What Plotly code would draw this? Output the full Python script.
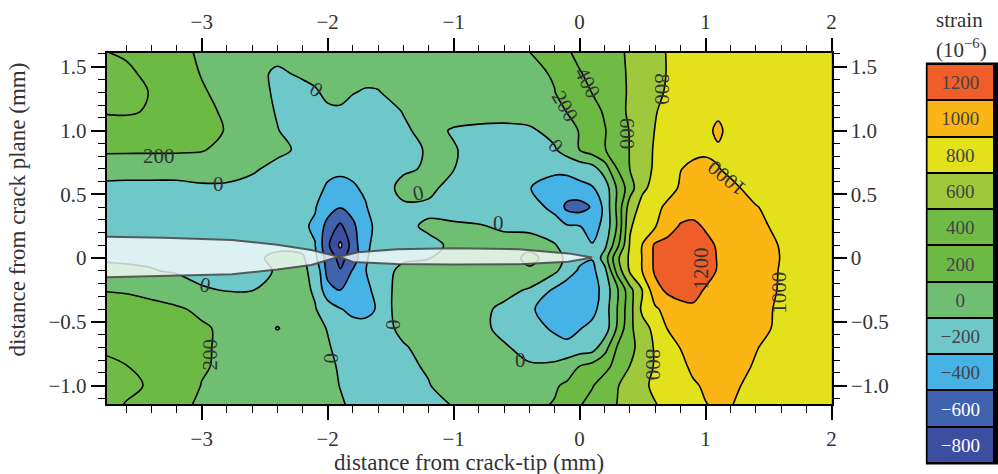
import plotly.graph_objects as go

# ---------------- data ----------------
x_mm = [-3.8, -3.6, -3.4, -3.2, -3.0, -2.8, -2.6, -2.4, -2.2, -2.1, -2.0, -1.9, -1.8, -1.7, -1.6,
        -1.4, -1.2, -1.0, -0.8, -0.6, -0.4, -0.2, -0.1, 0.0, 0.1, 0.2, 0.3, 0.4, 0.5, 0.6,
        0.7, 0.8, 0.9, 1.0, 1.1, 1.2, 1.4, 1.6, 1.8, 2.0]
y_mm = [-1.15, -1.0, -0.85, -0.7, -0.55, -0.4, -0.25, -0.1, 0.0, 0.1, 0.25, 0.4, 0.55, 0.7,
        0.85, 1.0, 1.15, 1.3, 1.45, 1.61]

row_m115 = [480, 390, 340, 250, 170, 150, 120, 100, 80, 60, 40, 20, -30, -60, -70, -50, -30, 5, 80, 120,
            160, 210, 280, 390, 450, 520, 605, 660, 730, 790, 850, 900, 950, 995, 1020, 1005, 950, 920, 910, 900]
row_m100 = [470, 440, 380, 300, 195, 160, 130, 110, 90, 70, 50, -5, -50, -70, -80, -60, -10, 90, 110, 120,
            140, 180, 230, 300, 390, 470, 590, 680, 760, 840, 880, 930, 980, 1020, 1030, 1020, 970, 940, 920, 910]
row_m085 = [440, 405, 340, 290, 215, 170, 140, 120, 100, 80, 40, -20, -70, -90, -90, -40, 20, 60, 80, 10,
            20, 40, 110, 205, 270, 360, 450, 605, 720, 815, 880, 960, 1030, 1050, 1050, 1040, 990, 950, 930, 920]
row_m070 = [380, 350, 310, 270, 220, 170, 130, 110, 100, 80, 20, -60, -100, -110, -100, -20, 70, 90, 80, 20,
            -60, -120, -140, -110, -90, 120, 420, 540, 690, 820, 900, 1005, 1060, 1070, 1060, 1050, 1005, 960, 940, 920]
row_m055 = [320, 310, 290, 250, 220, 170, 130, -10, 100, 60, -10, -100, -130, -130, -100, 55, 110, 100, 50, -50,
            -120, -230, -280, -210, -150, -110, 230, 560, 720, 860, 1010, 1080, 1120, 1110, 1090, 1070, 1030, 980, 950, 930]
row_m040 = [265, 260, 240, 220, 170, 150, 130, 110, 80, 10, -90, -190, -250, -260, -180, 150, 130, 120, 50, -40,
            -170, -300, -340, -330, -260, -100, 205, 530, 850, 970, 1070, 1150, 1180, 1160, 1120, 1090, 1040, 980, 950, 930]
row_m025 = [195, 185, 160, 110, 20, -10, -5, 40, 40, -20, -330, -410, -330, -240, -150, 120, 110, 110, 100, 60,
            -20, -230, -320, -340, -300, -120, 170, 540, 810, 1130, 1240, 1260, 1240, 1190, 1150, 1110, 1050, 990, 950, 930]
row_m010 = [40, 30, 10, -20, -60, -60, -40, 10, 20, -30, -470, -590, -380, -205, -120, 65, 80, 100, 120, 130,
            170, 40, -100, -230, -250, -60, 480, 830, 1010, 1230, 1290, 1310, 1300, 1250, 1190, 1140, 1070, 990, 950, 930]
row_p000 = [-20, -25, -30, -40, -50, -50, -40, 40, 30, -150, -500, -650, -520, -230, -80, -40, -5, 40, 80, 100,
            250, 120, -60, -150, -190, 100, 560, 840, 1010, 1240, 1300, 1320, 1310, 1260, 1190, 1150, 1080, 995, 960, 940]
row_p010 = [-100, -100, -90, -90, -80, -70, -60, -40, -60, -195, -560, -840, -500, -240, -130, -60, -30, 20, 40, 50,
            150, 20, -100, -180, -190, -50, 350, 820, 1010, 1230, 1280, 1300, 1290, 1250, 1180, 1140, 1070, 990, 950, 930]
row_p025 = [-120, -120, -120, -120, -120, -130, -140, -160, -180, -220, -480, -640, -440, -260, -150, -30, 20, 20, 10, -20,
            -80, -150, -180, -195, -270, -150, 225, 780, 900, 990, 1100, 1220, 1240, 1180, 1120, 1090, 1030, 970, 940, 920]
row_p040 = [-80, -90, -100, -100, -100, -110, -120, -140, -170, -190, -300, -390, -330, -210, -130, -40, -30, -60, -80, -90,
            -150, -230, -450, -480, -380, -150, 250, 700, 860, 950, 1040, 1090, 1120, 1120, 1100, 1070, 1005, 960, 930, 910]
row_p055 = [-30, -40, -50, -60, -40, -40, -70, -100, -150, -175, -210, -230, -215, -180, -150, 80, 40, -60, -120, -160,
            -195, -260, -275, -250, -215, -110, 230, 510, 770, 850, 930, 1020, 1060, 1070, 1060, 1025, 960, 930, 910, 900]
row_p070 = [55, 60, 75, 90, 120, 100, 30, -60, -120, -150, -180, -180, -170, -165, -140, -40, 30, 3, -60, -120,
            -150, -170, -160, -120, -80, 100, 405, 605, 720, 830, 900, 995, 1030, 1040, 1005, 975, 940, 910, 900, 900]
row_p085 = [240, 235, 230, 225, 210, 160, 120, 50, -40, -60, -100, -110, -100, -95, -80, -50, 15, 10, -50, -80,
            -80, -20, 90, 205, 300, 390, 520, 605, 720, 820, 880, 930, 965, 975, 980, 960, 930, 900, 900, 900]
row_p100 = [330, 320, 290, 260, 230, 195, 100, 5, -60, -70, -80, -80, -80, -75, -70, -20, 40, -12, -40, -50,
            -30, 60, 130, 210, 300, 390, 500, 610, 720, 805, 860, 900, 930, 960, 1030, 950, 920, 900, 900, 900]
row_p115 = [410, 420, 385, 330, 250, 170, 70, -10, -60, -60, -30, -20, -40, -50, -60, 5, 50, 60, 80, 80,
            90, 150, 205, 260, 340, 420, 520, 640, 710, 790, 850, 880, 900, 930, 970, 930, 910, 900, 900, 900]
row_p130 = [500, 470, 390, 320, 220, 140, 80, -30, -60, -20, 40, 40, 5, -10, -5, 40, 70, 90, 110, 140,
            160, 195, 270, 330, 405, 480, 550, 620, 690, 760, 820, 860, 890, 900, 920, 920, 910, 900, 900, 900]
row_p145 = [470, 430, 360, 290, 190, 120, 60, -30, 30, 50, 60, 60, 40, 35, 30, 40, 70, 90, 110, 140,
            160, 215, 300, 390, 440, 500, 560, 620, 680, 740, 810, 850, 870, 890, 900, 900, 900, 900, 900, 900]
row_p161 = [410, 380, 340, 260, 170, 120, 80, 60, 50, 50, 60, 60, 60, 40, 20, 10, 60, 80, 100, 140,
            195, 320, 380, 440, 480, 530, 575, 620, 690, 750, 810, 840, 860, 880, 890, 900, 900, 900, 900, 900]

strain = [row_m115, row_m100, row_m085, row_m070, row_m055, row_m040, row_m025, row_m010, row_p000,
          row_p010, row_p025, row_p040, row_p055, row_p070, row_p085, row_p100, row_p115, row_p130,
          row_p145, row_p161]

levels = [-800, -600, -400, -200, 0, 200, 400, 600, 800, 1000, 1200]
level_labels = ["\u2212800", "\u2212600", "\u2212400", "\u2212200", "0", "200", "400", "600",
                "800", "1000", "1200"]
# colour of band below -800, then one colour per band starting at each level
band_colors = ["#e4e8f0", "#3b4ea0", "#3f63ad", "#47b2e6", "#6ec8ca", "#6fbf73",
               "#6cb944", "#6fbb45", "#9ec93c", "#e2e11b", "#fbb616", "#ef5e28"]

# contour-line labels as printed on the chart: value, x (mm), y (mm)
clabel_text = ["200", "0", "0", "0", "0", "200", "0", "0", "200", "400", "0", "600", "800",
               "1000", "0", "1200", "1000", "800", "0"]
clabel_x = [-3.34, -2.87, -2.085, -1.28, -2.97, -2.93, -1.975, -1.477, -0.118, 0.067, -0.19,
            0.383, 0.652, 1.165, -0.644, 0.96, 1.576, 0.588, -0.466]
clabel_y = [0.80, 0.58, 1.32, 0.51, -0.21, -0.76, -0.78, -0.52, 1.19, 1.376, 0.875,
            0.976, 1.325, 0.628, 0.279, -0.085, -0.27, -0.834, -0.80]
clabel_angle = [0, 0, 35, -12, 10, -90, -90, -90, 60, 62, 50, 90, 90, 220, 0, -90, -90, 90, 0]

crack_x = [-3.754, -3.3, -2.76, -2.4, -2.13, -1.91, -1.8, -1.45, -1.0, -0.48, -0.09, 0.1,
           -0.09, -0.48, -1.01, -1.45, -1.76, -1.91, -2.13, -2.4, -2.76, -3.3, -3.754]
crack_y = [0.167, 0.16, 0.142, 0.105, 0.063, 0.01, -0.03, -0.046, -0.05, -0.048, -0.028, 0.005,
           0.037, 0.07, 0.077, 0.07, 0.045, 0.01, -0.054, -0.09, -0.127, -0.14, -0.15]

x_ticks = [-3, -2, -1, 0, 1, 2]
x_ticktext = ["\u22123", "\u22122", "\u22121", "0", "1", "2"]
y_ticks = [-1.0, -0.5, 0.0, 0.5, 1.0, 1.5]
y_ticktext = ["\u22121.0", "\u22120.5", "0", "0.5", "1.0", "1.5"]

# ---------------- figure ----------------
W, H = 998, 474
FONT = "Liberation Serif"
TXT = "#333333"

n = len(band_colors)
cscale = []
for k, c in enumerate(band_colors):
    cscale.append([k / n, c])
    cscale.append([(k + 1) / n, c])

step = levels[1] - levels[0]

fig = go.Figure()
fig.add_trace(go.Contour(
    x=x_mm, y=y_mm, z=strain,
    autocontour=False,
    contours=dict(start=levels[0], end=levels[-1] + step, size=step, coloring="fill",
                  showlabels=False),
    colorscale=cscale, showscale=False,
    line=dict(color="black", width=1.6),
    hoverinfo="skip",
))

fig.add_trace(go.Scatter(
    x=crack_x, y=crack_y, mode="lines", fill="toself",
    fillcolor="rgba(246,251,251,0.80)",
    line=dict(color="rgba(75,75,75,0.9)", width=2),
    hoverinfo="skip", showlegend=False,
))

# dummy trace for the mirrored labelled axes (top / right)
fig.add_trace(go.Scatter(x=[None], y=[None], xaxis="x3", yaxis="y2",
                         showlegend=False, hoverinfo="skip"))

# discrete colour key
fig.add_trace(go.Heatmap(
    z=[[lv + step / 2] for lv in levels],
    x=[0], y=list(range(len(levels))),
    text=[[t] for t in level_labels], texttemplate="%{text}",
    textfont=dict(family=FONT, size=19),
    colorscale=cscale, zmin=levels[0] - step, zmax=levels[-1] + step,
    showscale=False, ygap=2, xgap=0, hoverinfo="skip",
    xaxis="x2", yaxis="y3",
))

x0p, x1p = 107.3 / W, 835.7 / W
y0p, y1p = (H - 404.3) / H, (H - 52.7) / H
xr = [-3.754, 2.0]
yr = [-1.146, 1.61]

tickfont = dict(family=FONT, size=21, color=TXT)
common_x = dict(range=xr, tickvals=x_ticks, ticktext=x_ticktext, ticks="outside",
                ticklen=14, tickwidth=1.6, tickcolor="black",
                minor=dict(dtick=0.2, tick0=0, ticks="outside", ticklen=7,
                           tickwidth=1.4, tickcolor="black"),
                showgrid=False, zeroline=False, tickfont=tickfont, fixedrange=True)
common_y = dict(range=yr, tickvals=y_ticks, ticktext=y_ticktext, ticks="outside",
                ticklen=14, tickwidth=1.6, tickcolor="black",
                minor=dict(dtick=0.1, tick0=0, ticks="outside", ticklen=7,
                           tickwidth=1.4, tickcolor="black"),
                showgrid=False, zeroline=False, tickfont=tickfont, fixedrange=True)

annotations = [
    dict(text="distance from crack-tip (mm)", x=471.5 / W, y=1 - 462 / H,
         xref="paper", yref="paper", showarrow=False, xanchor="center", yanchor="middle",
         font=dict(family=FONT, size=23, color=TXT)),
    dict(text="distance from crack plane (mm)", x=18 / W, y=1 - 209.5 / H,
         xref="paper", yref="paper", showarrow=False, xanchor="center", yanchor="middle",
         textangle=-90, font=dict(family=FONT, size=23, color=TXT)),
    dict(text="strain", x=964 / W, y=1 - 20 / H, xref="paper", yref="paper",
         showarrow=False, xanchor="center", yanchor="middle",
         font=dict(family=FONT, size=21, color=TXT)),
    dict(text="(10<sup>\u22126</sup>)", x=966 / W, y=1 - 49 / H, xref="paper", yref="paper",
         showarrow=False, xanchor="center", yanchor="middle",
         font=dict(family=FONT, size=21, color=TXT)),
]
for t, lx, ly, la in zip(clabel_text, clabel_x, clabel_y, clabel_angle):
    annotations.append(dict(text=t, x=lx, y=ly, xref="x", yref="y", showarrow=False,
                            xanchor="center", yanchor="middle", textangle=la,
                            font=dict(family=FONT, size=21, color=TXT)))

fig.update_layout(
    width=W, height=H,
    margin=dict(l=0, r=0, t=0, b=0),
    paper_bgcolor="white", plot_bgcolor="white",
    showlegend=False,
    font=dict(family=FONT, color=TXT),
    xaxis=dict(domain=[x0p, x1p], anchor="y", showline=True, linewidth=2,
               linecolor="black", mirror=True, **common_x),
    xaxis3=dict(overlaying="x", side="top", anchor="y", showline=False, **common_x),
    yaxis=dict(domain=[y0p, y1p], anchor="x", showline=True, linewidth=2,
               linecolor="black", mirror=True, **common_y),
    yaxis2=dict(overlaying="y", side="right", anchor="x", showline=False, **common_y),
    xaxis2=dict(domain=[932 / W, 1.0], anchor="y3", visible=False, range=[-0.5, 0.5],
                fixedrange=True),
    yaxis3=dict(domain=[(H - 463) / H, (H - 64) / H], anchor="x2", visible=False,
                range=[-0.5, len(levels) - 0.5], fixedrange=True),
    shapes=[dict(type="rect", xref="paper", yref="paper", layer="below",
                 x0=930.5 / W, x1=1.01, y0=(H - 464.5) / H, y1=(H - 62.5) / H,
                 fillcolor="black", line=dict(width=0))],
    annotations=annotations,
)

fig.write_html("out.html")
